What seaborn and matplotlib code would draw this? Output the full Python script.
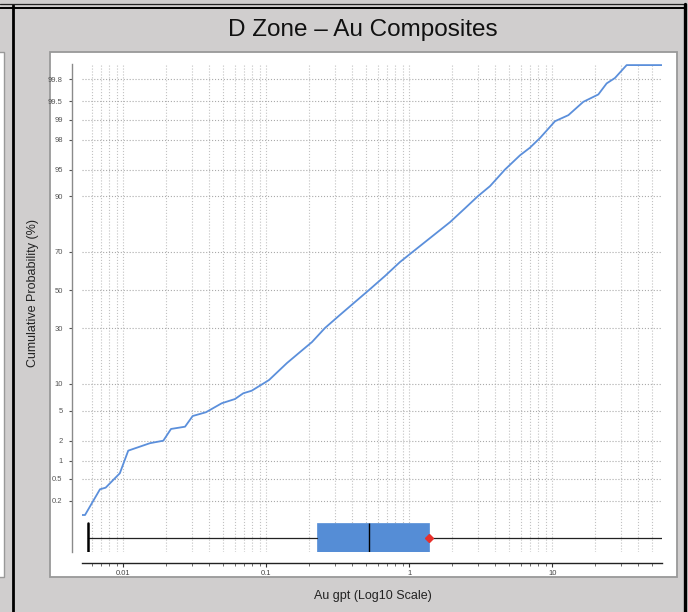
import matplotlib
matplotlib.use('Agg')
import matplotlib.pyplot as plt
from matplotlib.patches import Rectangle
from matplotlib.lines import Line2D
import pandas as pd
import seaborn as sns
from statistics import NormalDist

# cumulative probability curve
grade_gpt = [0.00512, 0.00540, 0.00687, 0.00753, 0.00946, 0.01083, 0.01535, 0.01905, 0.02157,
             0.02703, 0.03057, 0.03786, 0.04875, 0.0604, 0.0690, 0.0790, 0.1045, 0.1395,
             0.1722, 0.2087, 0.2570, 0.3273, 0.4169, 0.5224, 0.676, 0.861, 1.061, 1.396,
             1.927, 2.455, 3.02, 3.67, 4.67, 5.94, 6.98, 8.20, 10.45, 12.95, 16.48, 20.98,
             23.99, 27.43, 33.1, 58.2]
cum_prob = [0.107, 0.107, 0.327, 0.35, 0.62, 1.42, 1.83, 1.99, 2.90, 3.11, 4.28, 4.77, 6.11,
            6.85, 7.94, 8.47, 10.97, 15.96, 19.88, 23.9, 30.2, 36.7, 43.5, 50.0, 57.6, 64.9,
            70.0, 76.1, 82.3, 86.8, 90.0, 92.2, 95.0, 96.7, 97.4, 98.1, 98.94, 99.15, 99.49,
            99.62, 99.76, 99.81, 99.893, 99.893]

# box plot summary (gpt)
box_min = 0.0057
box_q1 = 0.227
box_median = 0.525
box_q3 = 1.38
box_max = 58.2
box_mean = 1.38

prob_ticks = [0.2, 0.5, 1, 2, 5, 10, 30, 50, 70, 90, 95, 98, 99, 99.5, 99.8]
prob_labels = ['0.2', '0.5', '1', '2', '5', '10', '30', '50', '70', '90', '95', '98', '99', '99.5', '99.8']
grade_ticks = [0.01, 0.1, 1, 10]
grade_labels = ['0.01', '0.1', '1', '10']

title = 'D Zone \u2013 Au Composites'
xlabel = 'Au gpt (Log10 Scale)'
ylabel = 'Cumulative Probability (%)'

BLUE_LINE = '#5b8fdb'
BLUE_BOX = '#558dd6'
BG = '#d0cece'


def probit(p):
    return NormalDist().inv_cdf(p / 100.0)


def main():
    sns.set_style('white')
    plt.rcParams['font.family'] = ['Liberation Sans', 'DejaVu Sans']

    W, H = 688, 612
    fig = plt.figure(figsize=(W / 100, H / 100), dpi=100, facecolor=BG)

    # screenshot frame: white panel, neighbour panel edge, black borders
    fig.add_artist(Rectangle((50 / W, 1 - 577 / H), 627 / W, 525 / H, transform=fig.transFigure,
                             facecolor='white', edgecolor='#999999', lw=1.3, zorder=-2))
    fig.add_artist(Rectangle((-6 / W, 1 - 577 / H), 10 / W, 525 / H, transform=fig.transFigure,
                             facecolor='white', edgecolor='#999999', lw=1.0, zorder=-2))
    fig.add_artist(Line2D([13 / W, 13 / W], [0, 1 - 5 / H], transform=fig.transFigure,
                          color='black', lw=2.0))
    fig.add_artist(Line2D([0, 686 / W], [1 - 4.3 / H, 1 - 4.3 / H], transform=fig.transFigure,
                          color='#222222', lw=0.9))
    fig.add_artist(Line2D([0, 686 / W], [1 - 7.8 / H, 1 - 7.8 / H], transform=fig.transFigure,
                          color='black', lw=1.4))
    fig.add_artist(Line2D([685 / W, 685 / W], [0, 1 - 4 / H], transform=fig.transFigure,
                          color='black', lw=2.4))

    ax = fig.add_axes([81.7 / W, 1 - 552 / H, 580 / W, 488 / H])
    ax.set_facecolor('white')

    df = pd.DataFrame({'grade': grade_gpt, 'z': [probit(p) for p in cum_prob]})
    sns.lineplot(data=df, x='grade', y='z', ax=ax, color=BLUE_LINE, lw=1.3,
                 estimator=None, sort=False, zorder=3)

    stats = [{'whislo': box_min, 'q1': box_q1, 'med': box_median, 'q3': box_q3,
              'whishi': box_max, 'mean': box_mean}]
    bp = ax.bxp(stats, positions=[-3.38], widths=[0.39], orientation='horizontal',
                showmeans=True, patch_artist=True, showfliers=False, capwidths=[0.39],
                boxprops=dict(facecolor=BLUE_BOX, edgecolor=BLUE_BOX, lw=0.5),
                medianprops=dict(color='black', lw=1.0),
                whiskerprops=dict(color='#222222', lw=0.9),
                capprops=dict(color='black', lw=1.8),
                meanprops=dict(marker='D', markerfacecolor='#e8302c',
                               markeredgecolor='#e8302c', markersize=4.5))
    bp['caps'][1].set_visible(False)

    ax.set_xscale('log')
    ax.set_xlim(grade_gpt[0], grade_gpt[-1])
    ax.set_ylim(-3.575, 3.085)
    ax.set_xticks(grade_ticks)
    ax.set_xticklabels(grade_labels)
    ax.set_yticks([probit(p) for p in prob_ticks])
    ax.set_yticklabels(prob_labels)

    ax.grid(True, which='both', axis='x', ls=':', color='#c2c2c2', lw=0.8)
    ax.grid(True, which='major', axis='y', ls=':', color='#aaaaaa', lw=0.8)
    ax.set_axisbelow(True)

    for s in ['top', 'right']:
        ax.spines[s].set_visible(False)
    ax.spines['left'].set_position(('outward', 7.2))
    ax.spines['bottom'].set_position(('outward', 8))
    ax.spines['left'].set_color('#8a8a8a')
    ax.spines['left'].set_linewidth(1.0)
    ax.spines['bottom'].set_color('#222222')
    ax.spines['bottom'].set_linewidth(1.0)

    ax.tick_params(axis='y', which='major', length=2.5, width=0.8, color='#555555',
                   labelsize=5.5, labelcolor='#555555', pad=4, left=True)
    ax.tick_params(axis='x', which='major', length=3, width=0.8, color='#333333',
                   labelsize=5.5, labelcolor='#444444', pad=2, bottom=True)
    ax.tick_params(axis='x', which='minor', length=2, width=0.6, color='#555555', bottom=True)

    ax.set_xlabel(xlabel, fontsize=9, color='#222222')
    ax.set_ylabel(ylabel, fontsize=9, color='#222222')
    ax.xaxis.set_label_coords(0.502, -0.078)
    ax.yaxis.set_label_coords(-0.0736, 0.531)

    fig.text(363 / W, 1 - 30 / H, title, ha='center', va='center', fontsize=17.5, color='#111111')

    fig.savefig('out.png', dpi=100, facecolor=BG)


if __name__ == '__main__':
    main()
